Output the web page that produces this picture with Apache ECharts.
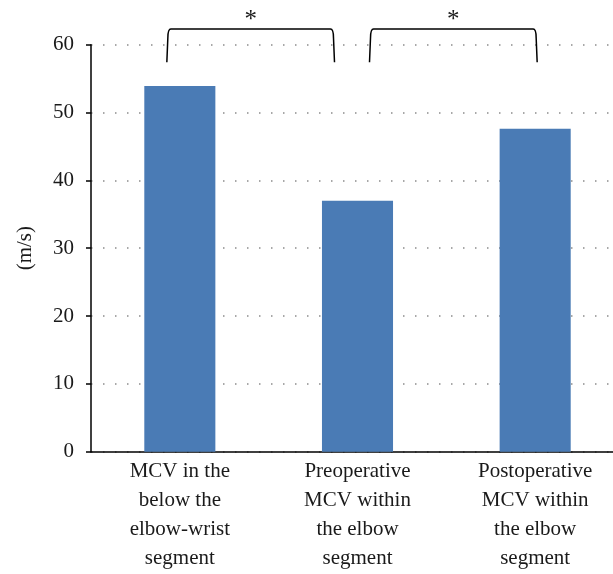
<!DOCTYPE html>
<html>
<head>
<meta charset="utf-8">
<script src="https://cdn.jsdelivr.net/npm/echarts@6/dist/echarts.min.js"></script>
<style>
  html, body { margin: 0; padding: 0; background: #fff; overflow: hidden; }
  #chart { width: 624px; height: 574px; }
</style>
</head>
<body>
<div id="chart"></div>
<script>
// data
const categories = [
  "MCV in the\nbelow the\nelbow-wrist\nsegment",
  "Preoperative\nMCV within\nthe elbow\nsegment",
  "Postoperative\nMCV within\nthe elbow\nsegment"
];
const mcv = [53.9, 37.0, 47.6];
const yTicks = [0, 10, 20, 30, 40, 50, 60];
// significance brackets: [from category, to category, label]
const brackets = [[0, 1, "*"], [1, 2, "*"]];

const serif = "'Liberation Serif', 'DejaVu Serif', serif";
// leg offsets in px from category centre (left leg, right leg)
const legOffsets = [[-13, -23], [12, 2]];

// the plot runs past the right edge of the picture, so the canvas is a bit wider than the window
let myChart = echarts.init(document.getElementById("chart"));

let option = {
  animation: false,
  grid: { left: 91, right: 0, top: 44.7, bottom: 122.3 },
  xAxis: {
    type: "category",
    data: categories,
    axisLine: { lineStyle: { color: "#000", width: 1.5 } },
    axisTick: { show: false },
    axisLabel: {
      interval: 0,
      fontFamily: serif,
      fontSize: 21,
      lineHeight: 29,
      color: "#1a1a1a",
      margin: 5
    }
  },
  yAxis: {
    type: "value",
    min: yTicks[0],
    max: yTicks[yTicks.length - 1],
    interval: 10,
    name: "(m/s)",
    nameLocation: "middle",
    nameGap: 55,
    nameTextStyle: { fontFamily: serif, fontSize: 21, color: "#1a1a1a" },
    axisLine: { show: true, lineStyle: { color: "#000", width: 1.5 } },
    axisTick: { show: true, length: 5, lineStyle: { color: "#000", width: 1.5 } },
    axisLabel: { fontFamily: serif, fontSize: 21, color: "#1a1a1a", margin: 17 },
    splitLine: {
      show: true,
      lineStyle: { color: "#8c8c8c", width: 1.5, type: [1.5, 10.5] }
    }
  },
  series: [
    {
      type: "bar",
      data: mcv,
      barWidth: "40%",
      itemStyle: { color: "#4a7bb5" }
    },
    {
      type: "custom",
      data: brackets.map(b => [b[0], b[1]]),
      clip: false,
      silent: true,
      z: 5,
      renderItem: function (params, api) {
        let i = params.dataIndex;
        let a = api.coord([api.value(0), 0]);
        let b = api.coord([api.value(1), 0]);
        let top = api.coord([0, 62.3])[1];
        let legEnd = api.coord([0, 57.4])[1];
        let xL = a[0] + legOffsets[i][0];
        let xR = b[0] + legOffsets[i][1];
        let r = 3;
        return {
          type: "group",
          children: [
            {
              type: "path",
              shape: {
                pathData:
                  "M" + xL + " " + legEnd +
                  " L" + (xL + 1) + " " + (top + 9) +
                  " Q" + (xL + 1) + " " + top + " " + (xL + r + 1) + " " + top +
                  " L" + (xR - r - 1) + " " + top +
                  " Q" + (xR - 1) + " " + top + " " + (xR - 1) + " " + (top + 9) +
                  " L" + xR + " " + legEnd
              },
              style: { fill: null, stroke: "#000", lineWidth: 1.5 }
            },
            {
              type: "text",
              x: (xL + xR) / 2,
              y: top - 9,
              style: {
                text: brackets[i][2],
                fontFamily: serif,
                fontSize: 25,
                fill: "#1a1a1a",
                align: "center",
                verticalAlign: "middle"
              }
            }
          ]
        };
      }
    }
  ]
};
myChart.setOption(option);
</script>
</body>
</html>
